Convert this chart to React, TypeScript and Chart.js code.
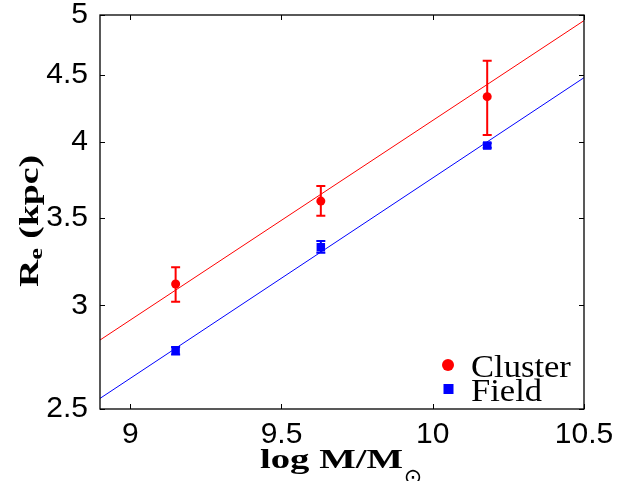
import React, { useEffect, useRef } from 'react';
import { Chart, registerables } from 'chart.js';

Chart.register(...registerables);

// ---- data ----
const massBins = [9.15, 9.63, 10.18];
const clusterRe = [3.115, 3.604, 4.331];
const clusterLo = [3.019, 3.512, 4.049];
const clusterHi = [3.208, 3.701, 4.613];
const fieldRe = [2.77, 3.323, 3.974];
const fieldLo = [2.752, 3.291, 3.958];
const fieldHi = [2.788, 3.359, 3.99];
const fitX = [8.9, 10.5];
const clusterFit = [2.8225, 4.951];
const fieldFit = [2.547, 4.478];
const xTicks = [9, 9.5, 10, 10.5];
const yTicks = [2.5, 3, 3.5, 4, 4.5, 5];
const seriesLabels = ['Cluster', 'Field'];
const xTitle = 'log M/M';
const xTitleSub = '\u2299';
const yTitleMain = 'R';
const yTitleSub = 'e';
const yTitleRest = ' (kpc)';

const RED = '#ff0000';
const BLUE = '#0000ff';
const SERIF = '"Liberation Serif", "Times New Roman", serif';
const SERIF_B = '"Liberation Serif", "Times New Roman", serif';
const SANS = '"Liberation Sans", Arial, Helvetica, sans-serif';

function drawRich(ctx: CanvasRenderingContext2D, parts: any[], targetWidth: number) {
  let natural = 0;
  for (const p of parts) {
    ctx.font = p.font;
    natural += ctx.measureText(p.text).width;
  }
  const s = targetWidth / natural;
  ctx.scale(s, 1);
  let cx = 0;
  for (const p of parts) {
    ctx.font = p.font;
    ctx.fillText(p.text, cx, p.dy || 0);
    cx += ctx.measureText(p.text).width;
  }
}

export default function App() {
  const ref = useRef<HTMLCanvasElement>(null);

  useEffect(() => {
    const canvas = ref.current!;

    const errorBars = {
      id: 'errorBars',
      beforeDatasetsDraw(chart: any) {
        const { ctx } = chart;
        const xs = chart.scales.x;
        const ys = chart.scales.y;
        const sets = [
          { lo: clusterLo, hi: clusterHi, color: RED },
          { lo: fieldLo, hi: fieldHi, color: BLUE },
        ];
        ctx.save();
        for (const s of sets) {
          ctx.strokeStyle = s.color;
          ctx.lineWidth = 2;
          for (let i = 0; i < massBins.length; i++) {
            const x = xs.getPixelForValue(massBins[i]);
            const y1 = ys.getPixelForValue(s.lo[i]);
            const y2 = ys.getPixelForValue(s.hi[i]);
            ctx.beginPath();
            ctx.moveTo(x, y1);
            ctx.lineTo(x, y2);
            ctx.moveTo(x - 4.5, y1);
            ctx.lineTo(x + 4.5, y1);
            ctx.moveTo(x - 4.5, y2);
            ctx.lineTo(x + 4.5, y2);
            ctx.stroke();
          }
        }
        ctx.restore();
      },
    };

    const frame = {
      id: 'frame',
      afterDraw(chart: any) {
        const { ctx, chartArea: a } = chart;
        const xs = chart.scales.x;
        const ys = chart.scales.y;
        ctx.save();
        ctx.strokeStyle = '#000';
        ctx.lineWidth = 1.3;
        ctx.strokeRect(a.left, a.top, a.right - a.left, a.bottom - a.top);
        ctx.lineWidth = 1;
        ctx.beginPath();
        for (const v of xTicks) {
          const x = Math.round(xs.getPixelForValue(v)) + 0.5;
          ctx.moveTo(x, a.bottom);
          ctx.lineTo(x, a.bottom - 5);
          ctx.moveTo(x, a.top);
          ctx.lineTo(x, a.top + 5);
        }
        for (const v of yTicks) {
          const y = Math.round(ys.getPixelForValue(v)) + 0.5;
          ctx.moveTo(a.left, y);
          ctx.lineTo(a.left + 5, y);
          ctx.moveTo(a.right, y);
          ctx.lineTo(a.right - 5, y);
        }
        ctx.stroke();

        // axis titles
        ctx.fillStyle = '#000';
        ctx.textBaseline = 'alphabetic';
        ctx.textAlign = 'left';
        ctx.save();
        ctx.translate(260, 468);
        drawRich(ctx, [{ text: xTitle, font: `bold 27px ${SERIF_B}` }], 143);
        ctx.restore();
        ctx.font = `22px "DejaVu Sans", sans-serif`;
        ctx.textAlign = 'center';
        ctx.textBaseline = 'middle';
        ctx.fillText(xTitleSub, 413, 478);

        ctx.textAlign = 'left';
        ctx.textBaseline = 'alphabetic';
        ctx.save();
        ctx.translate(37.5, 287);
        ctx.rotate(-Math.PI / 2);
        drawRich(
          ctx,
          [
            { text: yTitleMain, font: `bold 27px ${SERIF_B}` },
            { text: yTitleSub, font: `bold 19px ${SERIF_B}`, dy: 4 },
            { text: yTitleRest, font: `bold 27px ${SERIF_B}` },
          ],
          132
        );
        ctx.restore();

        // legend
        const legendItems = [
          { label: chart.data.datasets[0].label, color: chart.data.datasets[0].backgroundColor, style: 'circle', y: 365 },
          { label: chart.data.datasets[1].label, color: chart.data.datasets[1].backgroundColor, style: 'rect', y: 389 },
        ];
        for (const it of legendItems) {
          ctx.fillStyle = it.color;
          if (it.style === 'circle') {
            ctx.beginPath();
            ctx.arc(448, it.y, 6, 0, Math.PI * 2);
            ctx.fill();
          } else {
            ctx.fillRect(443.5, it.y - 5, 10, 10);
          }
          ctx.fillStyle = '#000';
          ctx.save();
          ctx.translate(471, it.y + 11.5);
          ctx.font = `32px ${SERIF}`;
          ctx.scale(1.08, 1);
          ctx.fillText(it.label, 0, 0);
          ctx.restore();
        }
        ctx.restore();
      },
    };

    const chart = new Chart(canvas, {
      type: 'scatter',
      data: {
        datasets: [
          {
            label: seriesLabels[0],
            data: massBins.map((x, i) => ({ x, y: clusterRe[i] })),
            backgroundColor: RED,
            borderColor: RED,
            pointStyle: 'circle',
            pointRadius: 4.5,
            borderWidth: 0,
            showLine: false,
            order: 0,
          },
          {
            label: seriesLabels[1],
            data: massBins.map((x, i) => ({ x, y: fieldRe[i] })),
            backgroundColor: BLUE,
            borderColor: BLUE,
            pointStyle: 'rect',
            pointRadius: 6,
            borderWidth: 0,
            showLine: false,
            order: 0,
          },
          {
            label: 'Cluster fit',
            data: fitX.map((x, i) => ({ x, y: clusterFit[i] })),
            borderColor: RED,
            backgroundColor: RED,
            borderWidth: 1,
            pointRadius: 0,
            showLine: true,
            order: 1,
          },
          {
            label: 'Field fit',
            data: fitX.map((x, i) => ({ x, y: fieldFit[i] })),
            borderColor: BLUE,
            backgroundColor: BLUE,
            borderWidth: 1,
            pointRadius: 0,
            showLine: true,
            order: 1,
          },
        ],
      },
      options: {
        responsive: false,
        animation: false,
        events: [],
        layout: { padding: { top: 15, right: 49, left: 0, bottom: 0 } },
        plugins: {
          legend: { display: false },
          tooltip: { enabled: false },
        },
        scales: {
          x: {
            type: 'linear',
            min: 8.9,
            max: 10.5,
            grid: { display: false },
            border: { display: false },
            afterBuildTicks: (s: any) => {
              s.ticks = xTicks.map((v) => ({ value: v }));
            },
            afterFit: (s: any) => {
              s.height = 72;
              s.paddingLeft = 0;
              s.paddingRight = 0;
            },
            ticks: {
              color: '#000',
              font: { family: SANS, size: 30 },
              padding: 0,
              maxRotation: 0,
              autoSkip: false,
              callback: (v: any) => String(v),
            },
          },
          y: {
            type: 'logarithmic',
            min: 2.5,
            max: 5,
            grid: { display: false },
            border: { display: false },
            afterBuildTicks: (s: any) => {
              s.ticks = yTicks.map((v) => ({ value: v }));
            },
            afterFit: (s: any) => {
              s.width = 100;
              s.paddingTop = 0;
              s.paddingBottom = 0;
            },
            ticks: {
              color: '#000',
              font: { family: SANS, size: 30 },
              padding: 4,
              autoSkip: false,
              callback: (v: any) => String(v),
            },
          },
        },
      },
      plugins: [errorBars, frame],
    } as any);

    return () => chart.destroy();
  }, []);

  return (
    <div style={{ position: 'fixed', left: 0, top: 0, width: 633, height: 481, background: '#fff' }}>
      <canvas ref={ref} width={633} height={481} style={{ display: 'block', width: 633, height: 481 }} />
    </div>
  );
}
